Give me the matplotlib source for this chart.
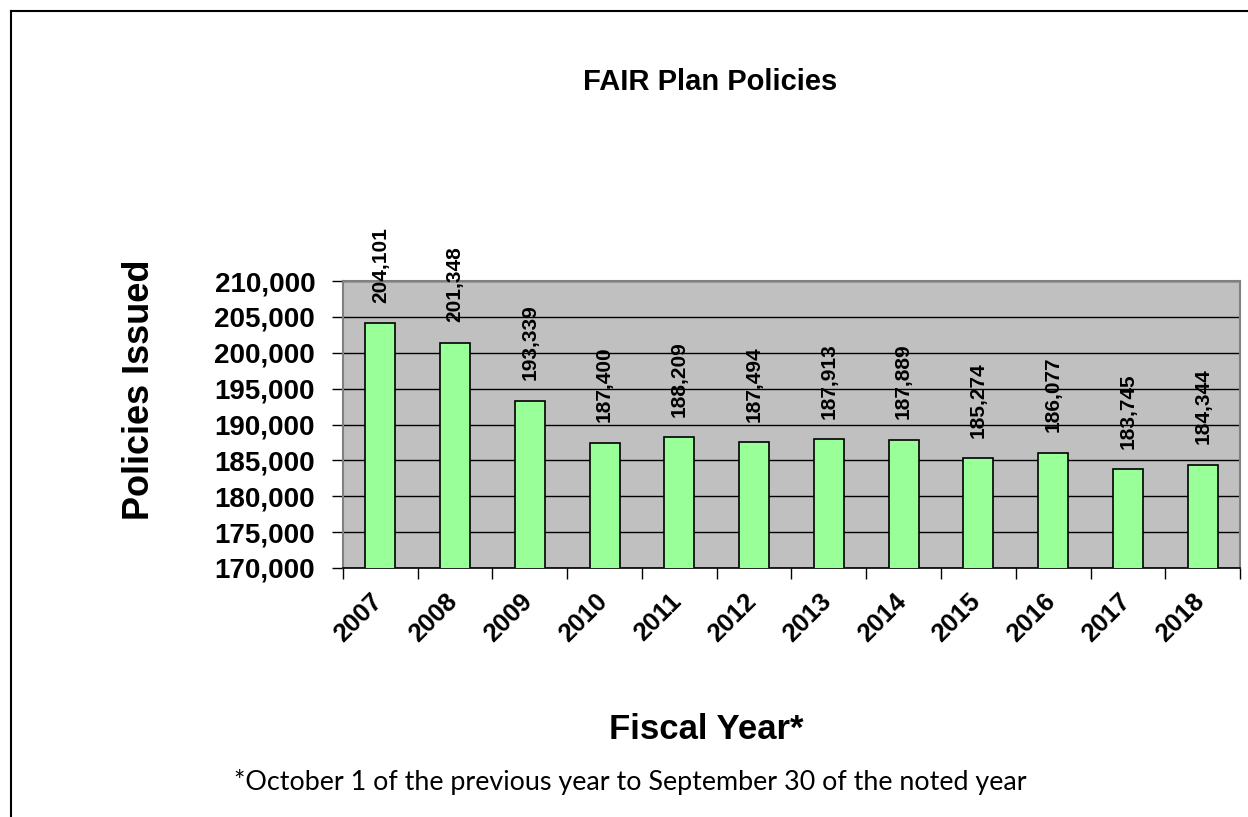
import matplotlib.pyplot as plt
from matplotlib.lines import Line2D
from matplotlib.ticker import FuncFormatter, MultipleLocator, FixedLocator
from matplotlib.transforms import ScaledTranslation
import numpy as np

# data
years = ['2007', '2008', '2009', '2010', '2011', '2012',
         '2013', '2014', '2015', '2016', '2017', '2018']
policies = [204101, 201348, 193339, 187400, 188209, 187494,
            187913, 187889, 185274, 186077, 183745, 184344]

plt.rcParams['font.family'] = ['Liberation Sans', 'DejaVu Sans']

fig = plt.figure(figsize=(12.48, 8.17), dpi=100)
fig.patch.set_facecolor('white')

ax = fig.add_axes([0.2748, 0.3048, 0.7188, 0.3512])
ax.set_facecolor('#C0C0C0')

x = np.arange(len(years))
ax.bar(x, policies, width=0.4, color='#99FF99', edgecolor='black',
       linewidth=1.2, zorder=3)

# value labels above the bars
for xi, v in zip(x, policies):
    ax.annotate(f'{v:,}', (xi, v), xytext=(0, 15), textcoords='offset points',
                rotation=90, ha='center', va='bottom', fontsize=15,
                fontweight='bold', annotation_clip=False)

ax.set_xlim(-0.5, len(years) - 0.5)
ax.set_ylim(170000, 210000)
ax.yaxis.set_major_locator(MultipleLocator(5000))
ax.yaxis.set_major_formatter(FuncFormatter(lambda v, p: f'{int(v):,}'))
ax.grid(axis='y', color='black', linewidth=1, zorder=1)
ax.set_axisbelow(True)

ax.set_xticks(x)
ax.set_xticklabels(years, rotation=45, ha='right', va='top',
                   rotation_mode='anchor', fontsize=18.5, fontweight='bold')
ax.tick_params(axis='x', which='major', length=0, pad=15)
shift = ScaledTranslation(-10 / 100, 0, fig.dpi_scale_trans)
for lab in ax.get_xticklabels():
    lab.set_transform(lab.get_transform() + shift)
ax.xaxis.set_minor_locator(FixedLocator(np.arange(-0.5, len(years), 1)))
ax.tick_params(axis='x', which='minor', length=8, width=1, color='black',
               direction='out')
ax.tick_params(axis='y', length=8, width=1, color='black', labelsize=20,
               pad=12)
for lab in ax.get_yticklabels():
    lab.set_fontweight('bold')

for side in ['top', 'right', 'left']:
    ax.spines[side].set_color('#808080')
    ax.spines[side].set_linewidth(1.5)
ax.spines['bottom'].set_color('black')
ax.spines['bottom'].set_linewidth(1.2)

fig.text(0.569, 0.8996, 'FAIR Plan Policies', ha='center', va='center',
         fontsize=21, fontweight='bold')
fig.text(0.112, 0.523, 'Policies Issued', ha='center', va='center',
         rotation=90, fontsize=26, fontweight='bold')
fig.text(0.566, 0.1065, 'Fiscal Year*', ha='center', va='center',
         fontsize=25, fontweight='bold')
fig.text(0.505, 0.0428,
         '*October 1 of the previous year to September 30 of the noted year',
         ha='center', va='center', fontsize=19.4, family=['Lato', 'DejaVu Sans'])

# frame lines at the top and left of the page
fig.add_artist(Line2D([0.009, 1.0], [0.9865, 0.9865], color='black',
                      linewidth=1.5, transform=fig.transFigure))
fig.add_artist(Line2D([0.009, 0.009], [0.0, 0.9865], color='black',
                      linewidth=1.5, transform=fig.transFigure))

plt.savefig('out.png', dpi=100, facecolor='white')
